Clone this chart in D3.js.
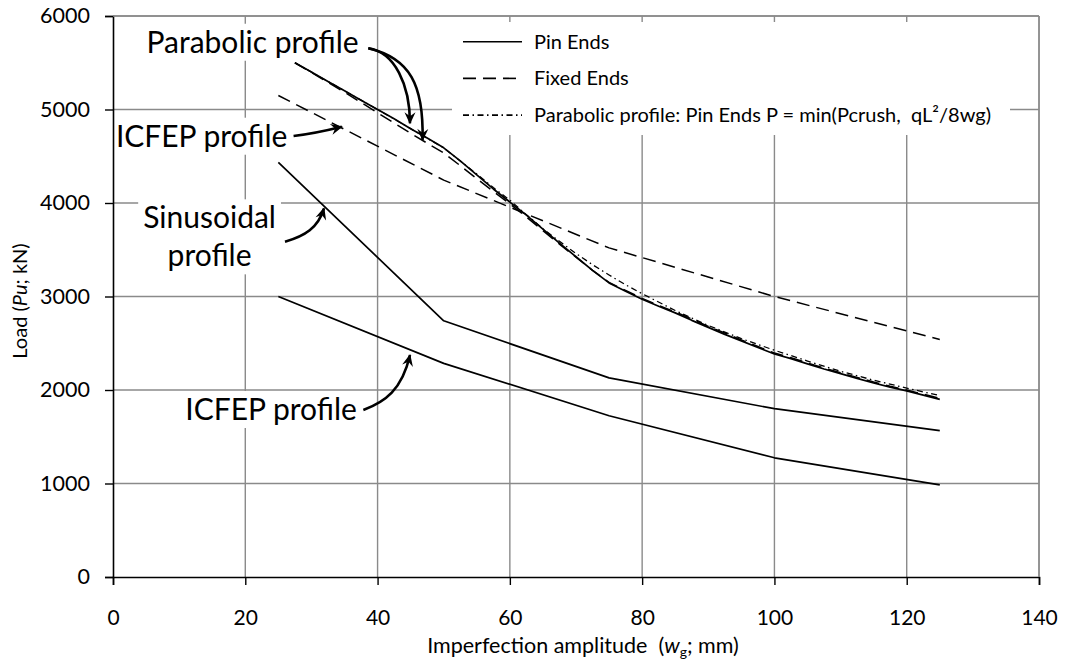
<!DOCTYPE html>
<html><head><meta charset="utf-8">
<script src="https://cdn.jsdelivr.net/npm/d3@7"></script>
<style>
body{margin:0;background:#fff}
svg{display:block}
text{font-family:Lato,"Open Sans",sans-serif;fill:#000}
</style>
</head><body>
<svg id="chart" width="1069" height="661"></svg>
<script>
// ---------- data ----------
const wg = [25, 50, 75, 100, 125];
const sinusoidalPin = [4435, 2740, 2130, 1800, 1565];
const icfepPin = [3000, 2285, 1725, 1275, 985];
const icfepFixed = [5150, 4245, 3520, 3000, 2540];

const parabX = [27.5,30,32.5,35,37.5,40,42.5,45,47.5,50,52.5,55,57.5,60,62.5,65,67.5,70,72.5,75,77.5,80,82.5,85,87.5,90,92.5,95,97.5,100,102.5,105,107.5,110,112.5,115,117.5,120,122.5,125];
const parabolicPin = [5500,5400,5300,5200,5100,5000,4900,4795,4695,4590,4450,4300,4150,4010,3870,3720,3570,3425,3280,3145,3055,2970,2895,2825,2745,2670,2595,2525,2455,2385,2335,2280,2225,2175,2125,2075,2030,1990,1945,1900];
const parabolicFixed = [5500,5395,5290,5185,5075,4965,4855,4745,4640,4535,4400,4260,4125,3990,3850,3705,3560,3420,3280,3150,3065,2980,2905,2835,2760,2680,2610,2535,2465,2395,2345,2290,2235,2185,2135,2085,2040,2000,1955,1910];

const formulaX = [27.5,30,35,40,45,50,55,57.5,60,62.5,65,67.5,70,72.5,75,77.5,80,85,90,95,100,105,110,115,120,125];
const formulaPin = [5500,5400,5200,5000,4795,4590,4310,4165,4030,3875,3725,3590,3460,3340,3230,3125,3030,2850,2690,2550,2425,2310,2200,2105,2020,1940];

const xTicks = [0,20,40,60,80,100,120,140];
const yTicks = [0,1000,2000,3000,4000,5000,6000];
const legendLabels = ["Pin Ends", "Fixed Ends", "Parabolic profile: Pin Ends P = min(Pcrush,  qL\u00B2/8wg)"];

// annotations (data units)
const annotationTexts = [
  {lines:["Parabolic profile"], x:21.1, y:5607},
  {lines:["ICFEP profile"], x:13.4, y:4602},
  {lines:["Sinusoidal","profile"], x:14.6, y:3729},
  {lines:["ICFEP profile"], x:23.9, y:1679}
];
const arrows = [
  [[38.6,5655],[42.6,5615],[44.9,5262],[44.9,4852]],
  [[38.6,5655],[44.9,5551],[47.0,5262],[46.8,4674]],
  [[27.3,4717],[29.8,4738],[32.0,4770],[34.6,4816]],
  [[26.0,3586],[29.0,3647],[31.0,3733],[31.9,3943]],
  [[37.85,1786],[41.1,1872],[43.7,2000],[44.9,2374]]
];

// ---------- layout ----------
const svg = d3.select("#chart");
const L = 113, R = 1039, T = 16, B = 577;
const x = d3.scaleLinear().domain([0,140]).range([L,R]);
const y = d3.scaleLinear().domain([0,6000]).range([B,T]);
const gridColor = "#8a8a8a";

svg.append("rect").attr("width",1069).attr("height",661).attr("fill","#fff");

// gridlines
const grid = svg.append("g");
grid.selectAll(".vg").data(xTicks.slice(1)).join("line")
  .attr("x1",d=>x(d)).attr("x2",d=>x(d)).attr("y1",T).attr("y2",B)
  .attr("stroke",gridColor).attr("stroke-width",1.4);
grid.selectAll(".hg").data(yTicks.slice(1)).join("line")
  .attr("y1",d=>y(d)).attr("y2",d=>y(d)).attr("x1",L).attr("x2",R)
  .attr("stroke",gridColor).attr("stroke-width",1.4);

const annFont = 30;

// annotation white boxes + texts
const annG = svg.append("g");
annotationTexts.forEach(a=>{
  const g = annG.append("g");
  const rect = g.append("rect").attr("fill","#fff");
  a.lines.forEach((t,i)=>{
    g.append("text").attr("x",x(a.x)).attr("y",y(a.y)+i*38)
      .attr("text-anchor","middle").attr("font-size",annFont).text(t);
  });
  const bb = g.node().getBBox();
  rect.attr("x",bb.x-5).attr("y",bb.y+1).attr("width",bb.width+10).attr("height",bb.height+1);
});

// legend box
const leg = svg.append("g");
leg.append("rect").attr("x",452).attr("y",22).attr("width",558).attr("height",113).attr("fill","#fff");
const legDash = [null,"13,7","6,3.5,1.5,3.5"];
legendLabels.forEach((t,i)=>{
  const yy = 41.7 + i*36.7;
  leg.append("line").attr("x1",463).attr("x2",522).attr("y1",yy).attr("y2",yy)
    .attr("stroke","#000").attr("stroke-width",1.6).attr("stroke-dasharray",legDash[i]);
  leg.append("text").attr("x",534).attr("y",yy).attr("dy","0.35em")
    .attr("font-size",20).style("white-space","pre").text(t);
});

// axes
const xAxis = d3.axisBottom(x).tickValues(xTicks).tickSize(8).tickPadding(25).tickFormat(d3.format("d"));
const gx = svg.append("g").attr("transform",`translate(0,${B})`).call(xAxis);
gx.select(".domain").attr("stroke","#000").attr("stroke-width",1.6);
gx.selectAll(".tick line").attr("stroke","#000").attr("stroke-width",1.4);
gx.selectAll("text").attr("font-size",21).attr("font-family","Lato").attr("fill","#000");

const yAxis = d3.axisLeft(y).tickValues(yTicks).tickSize(8).tickPadding(15).tickFormat(d3.format("d"));
const gy = svg.append("g").attr("transform",`translate(${L},0)`).call(yAxis);
gy.select(".domain").attr("stroke","#000").attr("stroke-width",1.6);
gy.selectAll(".tick line").attr("stroke","#000").attr("stroke-width",1.4);
gy.selectAll("text").attr("font-size",21.5).attr("font-family","Lato").attr("fill","#000");

// top & right borders (gray)
svg.append("line").attr("x1",L).attr("x2",R).attr("y1",T).attr("y2",T).attr("stroke",gridColor).attr("stroke-width",1.4);
svg.append("line").attr("x1",R).attr("x2",R).attr("y1",T).attr("y2",B).attr("stroke",gridColor).attr("stroke-width",1.4);

// axis titles
const xt = svg.append("text").attr("x",583).attr("y",653).attr("text-anchor","middle")
  .attr("font-size",21.5).style("white-space","pre");
xt.append("tspan").text("Imperfection amplitude  (");
xt.append("tspan").attr("font-style","italic").text("w");
xt.append("tspan").attr("font-size",14).attr("dy",4).text("g");
xt.append("tspan").attr("dy",-4).text("; mm)");

const yt = svg.append("text").attr("transform","translate(27,301) rotate(-90)").attr("text-anchor","middle")
  .attr("font-size",20);
yt.append("tspan").text("Load (");
yt.append("tspan").attr("font-style","italic").text("Pu");
yt.append("tspan").text("; kN)");

// data lines
const line = d3.line().x(d=>x(d[0])).y(d=>y(d[1]));
function drawSeries(xs, ys, dash, w){
  svg.append("path").datum(xs.map((v,i)=>[v,ys[i]])).attr("d",line)
    .attr("fill","none").attr("stroke","#000").attr("stroke-width",w)
    .attr("stroke-dasharray",dash).attr("stroke-linejoin","round");
}
drawSeries(wg, sinusoidalPin, null, 1.7);
drawSeries(wg, icfepPin, null, 1.7);
drawSeries(wg, icfepFixed, "13,7", 1.5);
drawSeries(formulaX, formulaPin, "6,3.5,1.5,3.5", 1.3);
drawSeries(parabX, parabolicFixed, "13,7", 1.5);
drawSeries(parabX, parabolicPin, null, 1.7);

// arrows
const defs = svg.append("defs");
defs.append("marker").attr("id","ah").attr("viewBox","-12 -6 14 12")
  .attr("refX",0).attr("refY",0).attr("markerWidth",14).attr("markerHeight",12)
  .attr("markerUnits","userSpaceOnUse").attr("orient","auto")
  .append("path").attr("d","M1,0 L-11,-5.5 L-7,0 L-11,5.5 Z").attr("fill","#000");
arrows.forEach(a=>{
  const p = a.map(d=>[x(d[0]),y(d[1])]);
  svg.append("path")
    .attr("d",`M${p[0]}C${p[1]} ${p[2]} ${p[3]}`)
    .attr("fill","none").attr("stroke","#000").attr("stroke-width",2.6)
    .attr("marker-end","url(#ah)");
});
</script>
</body></html>
